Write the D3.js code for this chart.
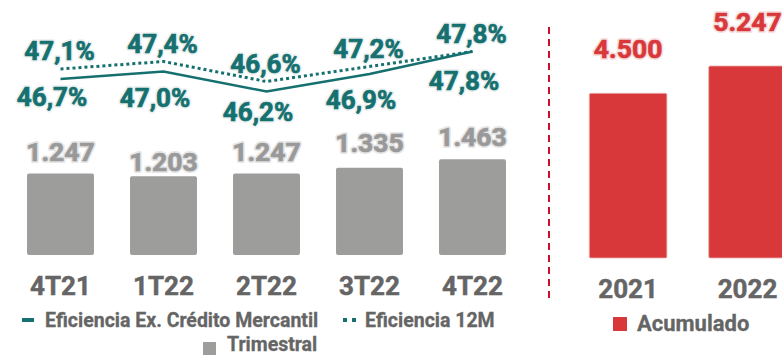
<!DOCTYPE html>
<html>
<head>
<meta charset="utf-8">
<script src="https://cdn.jsdelivr.net/npm/d3@7"></script>
<style>
  html, body { margin: 0; padding: 0; background: #fff; }
  svg { display: block; font-family: Roboto, "Noto Sans", sans-serif; font-weight: 700; }
</style>
</head>
<body>
<svg id="chart" width="782" height="356"></svg>
<script>
// Quarterly panel
const quarters = ["4T21", "1T22", "2T22", "3T22", "4T22"];
const trimestral = [1247, 1203, 1247, 1335, 1463];
const eficienciaExCM = [46.7, 47.0, 46.2, 46.9, 47.8];
const eficiencia12M = [47.1, 47.4, 46.6, 47.2, 47.8];

// Annual panel
const years = ["2021", "2022"];
const acumulado = [4500, 5247];

const fmtInt = d3.format(",.0f");
const esInt = v => fmtInt(v).replace(/,/g, ".");
const esPct = v => v.toFixed(1).replace(".", ",") + "%";

const TEAL = "#15706f";
const RED = "#d9383a";
const GRAY_BAR = "#9d9d9b";
const GRAY_LABEL = "#999999";
const AXIS_TXT = "#656565";
const FONT = "Roboto, sans-serif";

const svg = d3.select("#chart");

// ---------- scales ----------
const xQ = d3.scaleBand().domain(quarters).range([9, 524]).paddingInner(0.35).paddingOuter(0.175);
const yBar = d3.scaleLinear().domain([0, 3900]).range([255, 0]);
const yPct = d3.scaleLinear().domain([46.2, 47.8]).range([91.5, 51.5]);

const xY = d3.scaleBand().domain(years).range([568.4, 807.2]).paddingInner(0.35).paddingOuter(0.175);
const yAcc = d3.scaleLinear().domain([0, 7050]).range([258, 0]);

const cx = q => xQ(q) + xQ.bandwidth() / 2;

// Heavy data label with a soft halo: halo layer underneath, emboldened text on top.
function haloLabels(parent, data, opts) {
  const g = parent.append("g")
    .attr("text-anchor", "middle")
    .attr("font-size", opts.size)
    .attr("font-family", FONT)
    .attr("font-weight", 700);
  g.selectAll("text.halo").data(data).join("text")
    .attr("class", "halo")
    .attr("x", opts.x).attr("y", opts.y)
    .attr("fill", "none")
    .attr("stroke", opts.halo).attr("stroke-width", 4).attr("stroke-linejoin", "round")
    .text(opts.text);
  g.selectAll("text.lbl").data(data).join("text")
    .attr("class", "lbl")
    .attr("x", opts.x).attr("y", opts.y)
    .attr("fill", opts.color)
    .attr("stroke", opts.color).attr("stroke-width", 0.7).attr("stroke-linejoin", "round")
    .text(opts.text);
}

// ---------- quarterly bars ----------
svg.append("g").selectAll("rect").data(quarters).join("rect")
  .attr("x", q => xQ(q))
  .attr("y", (q, i) => yBar(trimestral[i]))
  .attr("width", xQ.bandwidth())
  .attr("height", (q, i) => yBar(0) - yBar(trimestral[i]))
  .attr("rx", 2)
  .attr("fill", GRAY_BAR);

// bar value labels (with small per-label nudges to stay clear of the lines)
const barLabelNudge = [-12, -5, -12, -16, -13];
haloLabels(svg, quarters, {
  size: 26.5,
  x: q => cx(q),
  y: (q, i) => yBar(trimestral[i]) + barLabelNudge[i],
  color: GRAY_LABEL, halo: "#e6e6e6",
  text: (q, i) => esInt(trimestral[i])
});

// ---------- efficiency lines ----------
const line = d3.line().x((d, i) => cx(quarters[i])).y(d => yPct(d));

svg.append("path").datum(eficiencia12M)
  .attr("d", line).attr("fill", "none")
  .attr("stroke", TEAL).attr("stroke-width", 3).attr("stroke-dasharray", "3 3");

svg.append("path").datum(eficienciaExCM)
  .attr("d", line).attr("fill", "none")
  .attr("stroke", TEAL).attr("stroke-width", 2.5);

// 12M labels above the dotted line
haloLabels(svg, eficiencia12M, {
  size: 26,
  x: (d, i) => cx(quarters[i]) - 1,
  y: d => yPct(d) - 9,
  color: TEAL, halo: "#eef2f2",
  text: d => esPct(d)
});

// Ex. Crédito Mercantil labels below the solid line
const solidLabelNudge = [-5, 3, -3, 3, 6];
haloLabels(svg, eficienciaExCM, {
  size: 26,
  x: (d, i) => cx(quarters[i]) - 8.5,
  y: (d, i) => yPct(d) + 32 + solidLabelNudge[i],
  color: TEAL, halo: "#eef2f2",
  text: d => esPct(d)
});

// quarterly axis
const axQ = svg.append("g").attr("transform", "translate(0,272)")
  .call(d3.axisBottom(xQ).tickSize(0).tickPadding(0));
axQ.select(".domain").remove();
axQ.selectAll("text")
  .attr("dy", null).attr("y", 23)
  .attr("font-family", FONT).attr("font-weight", 700)
  .attr("font-size", 26).attr("fill", AXIS_TXT)
  .attr("stroke", AXIS_TXT).attr("stroke-width", 0.5);

// ---------- separator ----------
svg.append("line")
  .attr("x1", 549).attr("x2", 549).attr("y1", 27).attr("y2", 300)
  .attr("stroke", "#c8102e").attr("stroke-width", 2).attr("stroke-dasharray", "7 5");

// ---------- annual bars ----------
svg.append("g").selectAll("rect").data(years).join("rect")
  .attr("x", y => xY(y))
  .attr("y", (y, i) => yAcc(acumulado[i]))
  .attr("width", xY.bandwidth())
  .attr("height", (y, i) => yAcc(0) - yAcc(acumulado[i]))
  .attr("rx", 1.5)
  .attr("fill", RED)
  .attr("stroke", "#e9b0b0").attr("stroke-width", 0.8);

haloLabels(svg, years, {
  size: 26.5,
  x: y => xY(y) + xY.bandwidth() / 2,
  y: (y, i) => yAcc(acumulado[i]) - 35,
  color: RED, halo: "#f6e0e0",
  text: (y, i) => esInt(acumulado[i])
});

const axY = svg.append("g").attr("transform", "translate(0,275)")
  .call(d3.axisBottom(xY).tickSize(0).tickPadding(0));
axY.select(".domain").remove();
axY.selectAll("text")
  .attr("dy", null).attr("y", 23)
  .attr("font-family", FONT).attr("font-weight", 700)
  .attr("font-size", 26).attr("fill", AXIS_TXT)
  .attr("stroke", AXIS_TXT).attr("stroke-width", 0.5);

// ---------- legends ----------
const leg = svg.append("g").attr("font-size", 19.5).attr("fill", AXIS_TXT)
  .attr("stroke", AXIS_TXT).attr("stroke-width", 0.3);

leg.append("rect").attr("x", 22).attr("y", 318).attr("width", 12).attr("height", 4).attr("fill", TEAL).attr("stroke", "none");
leg.append("text").attr("x", 45).attr("y", 327).text("Eficiencia Ex. Crédito Mercantil");

leg.append("rect").attr("x", 343).attr("y", 318).attr("width", 4).attr("height", 4).attr("fill", TEAL).attr("stroke", "none");
leg.append("rect").attr("x", 352).attr("y", 318).attr("width", 4).attr("height", 4).attr("fill", TEAL).attr("stroke", "none");
leg.append("text").attr("x", 365).attr("y", 327).text("Eficiencia 12M");

leg.append("rect").attr("x", 203).attr("y", 342).attr("width", 13).attr("height", 13).attr("fill", GRAY_BAR).attr("stroke", "none");
leg.append("text").attr("x", 227).attr("y", 351).text("Trimestral");

leg.append("rect").attr("x", 613).attr("y", 317).attr("width", 14).attr("height", 14).attr("fill", RED).attr("stroke", "none");
leg.append("text").attr("x", 637).attr("y", 331).attr("font-size", 22).text("Acumulado");
</script>
</body>
</html>
